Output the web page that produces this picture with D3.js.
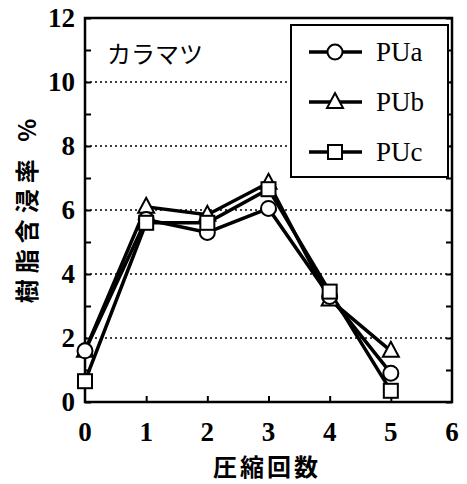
<!DOCTYPE html>
<html>
<head>
<meta charset="utf-8">
<script src="https://cdn.jsdelivr.net/npm/d3@7"></script>
<style>
body { margin: 0; background: #fff; }
svg { display: block; }
</style>
</head>
<body>
<script>
(function(){

    var xValues = [0, 1, 2, 3, 4, 5];
    var puA = [1.6, 5.7, 5.3, 6.05, 3.3, 0.9];
    var puB = [1.6, 6.1, 5.85, 6.85, 3.2, 1.6];
    var puC = [0.65, 5.6, 5.6, 6.65, 3.45, 0.35];
    var seriesNames = ["PUa", "PUb", "PUc"];
    var markerTypes = ["circle", "triangle", "square"];
    var xTicks = [0, 1, 2, 3, 4, 5, 6];
    var yTicks = [0, 2, 4, 6, 8, 10, 12];

    var width = 467, height = 484;
    var left = 85, right = 452, top = 18, bottom = 402;

    var svg = d3.select("body").append("svg")
        .attr("width", width)
        .attr("height", height);

    var x = d3.scaleLinear().domain([0, 6]).range([left, right]);
    var y = d3.scaleLinear().domain([0, 12]).range([bottom, top]);

    // dotted grid
    svg.selectAll(".grid")
        .data([2, 4, 6, 8, 10])
        .enter()
        .append("line")
        .attr("x1", left).attr("x2", right)
        .attr("y1", function(d){ return y(d); })
        .attr("y2", function(d){ return y(d); })
        .attr("stroke", "#000")
        .attr("stroke-width", 1.3)
        .attr("stroke-dasharray", "2,3");

    // axes (ticks pointing inward)
    svg.append("g")
        .attr("transform", "translate(0," + bottom + ")")
        .call(d3.axisTop(x).tickValues([1, 2, 3, 4, 5]).tickSize(6).tickFormat(""))
        .call(function(g){ g.select(".domain").remove(); });
    svg.append("g")
        .attr("transform", "translate(" + left + ",0)")
        .call(d3.axisRight(y).ticks(12).tickSize(6).tickFormat(""))
        .call(function(g){ g.select(".domain").remove(); });
    svg.append("g")
        .attr("transform", "translate(" + right + ",0)")
        .call(d3.axisLeft(y).ticks(12).tickSize(6).tickFormat(""))
        .call(function(g){ g.select(".domain").remove(); });
    svg.selectAll(".tick line").attr("stroke-width", 2);

    svg.append("rect")
        .attr("x", left).attr("y", top)
        .attr("width", right - left).attr("height", bottom - top)
        .attr("fill", "none")
        .attr("stroke", "#000")
        .attr("stroke-width", 2.5);

    // tick labels
    svg.selectAll(".xlab")
        .data(xTicks)
        .enter()
        .append("text")
        .attr("x", function(d){ return x(d); })
        .attr("y", 441)
        .attr("text-anchor", "middle")
        .attr("font-family", "Liberation Serif")
        .attr("font-weight", "bold")
        .attr("font-size", 27)
        .text(function(d){ return d; });

    svg.selectAll(".ylab")
        .data(yTicks)
        .enter()
        .append("text")
        .attr("x", 75)
        .attr("y", function(d){ return y(d) + 9; })
        .attr("text-anchor", "end")
        .attr("font-family", "Liberation Serif")
        .attr("font-weight", "bold")
        .attr("font-size", 27)
        .text(function(d){ return d; });

    // axis titles
    svg.append("text")
        .attr("x", 267).attr("y", 476)
        .attr("text-anchor", "middle")
        .attr("font-family", "Noto Sans CJK JP")
        .attr("font-weight", "bold")
        .attr("font-size", 24)
        .attr("letter-spacing", 3)
        .text("圧縮回数");

    svg.append("text")
        .attr("transform", "translate(36,208) rotate(-90)")
        .attr("text-anchor", "middle")
        .attr("font-family", "Noto Sans CJK JP")
        .attr("font-weight", "bold")
        .attr("font-size", 24)
        .attr("letter-spacing", 6)
        .attr("xml:space", "preserve")
        .text("樹脂含浸率 %");

    svg.append("text")
        .attr("x", 107).attr("y", 63)
        .attr("font-family", "Noto Sans CJK JP")
        .attr("font-size", 24)
        .text("カラマツ");

    function drawMarker(g, type, cx, cy) {
        if (type == "circle") {
            g.append("circle").attr("cx", cx).attr("cy", cy).attr("r", 7.5)
                .attr("fill", "#fff").attr("stroke", "#000").attr("stroke-width", 2);
        } else if (type == "square") {
            g.append("rect").attr("x", cx - 7).attr("y", cy - 7)
                .attr("width", 14).attr("height", 14)
                .attr("fill", "#fff").attr("stroke", "#000").attr("stroke-width", 2);
        } else {
            g.append("path")
                .attr("d", "M" + cx + "," + (cy - 9) + "L" + (cx + 8) + "," + (cy + 6) + "L" + (cx - 8) + "," + (cy + 6) + "Z")
                .attr("fill", "#fff").attr("stroke", "#000").attr("stroke-width", 2);
        }
    }

    var allSeries = [puA, puB, puC];
    var line = d3.line()
        .x(function(d, i){ return x(xValues[i]); })
        .y(function(d){ return y(d); });

    allSeries.forEach(function(vals){
        svg.append("path")
            .datum(vals)
            .attr("d", line)
            .attr("fill", "none")
            .attr("stroke", "#000")
            .attr("stroke-width", 3.5);
    });

    var marks = svg.append("g");
    [1, 0, 2].forEach(function(s){
        allSeries[s].forEach(function(v, i){
            drawMarker(marks, markerTypes[s], x(xValues[i]), y(v));
        });
    });

    // legend
    var legend = svg.append("g");
    legend.append("rect")
        .attr("x", 291).attr("y", 25)
        .attr("width", 157).attr("height", 152)
        .attr("fill", "#fff")
        .attr("stroke", "#000")
        .attr("stroke-width", 2);

    seriesNames.forEach(function(name, i){
        var ly = 52 + i * 50;
        legend.append("line")
            .attr("x1", 309).attr("x2", 362)
            .attr("y1", ly).attr("y2", ly)
            .attr("stroke", "#000").attr("stroke-width", 3.5);
        drawMarker(legend, markerTypes[i], 335, ly);
        legend.append("text")
            .attr("x", 376).attr("y", ly + 9)
            .attr("font-family", "Liberation Serif")
            .attr("font-size", 27)
            .text(name);
    });

})();
</script>
</body>
</html>
